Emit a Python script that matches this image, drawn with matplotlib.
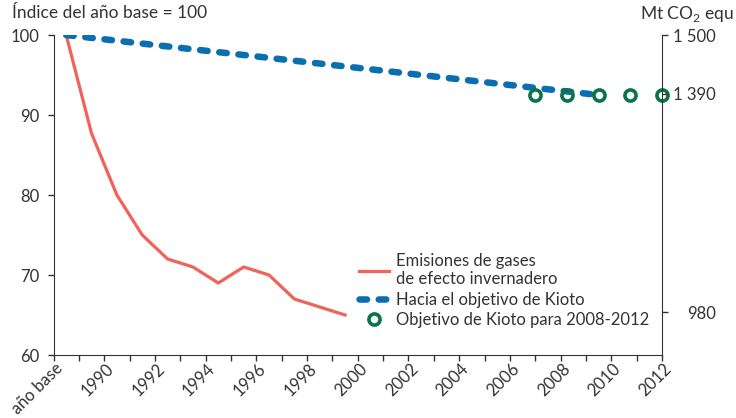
import numpy as np
import matplotlib.pyplot as plt
import matplotlib.transforms as mtrans

plt.rcParams['font.family'] = ['Lato', 'DejaVu Sans']
plt.rcParams['mathtext.fontset'] = 'custom'
plt.rcParams['mathtext.rm'] = 'Lato'

# data
tick_labels = ['año base', '1990', '1992', '1994', '1996', '1998', '2000',
               '2002', '2004', '2006', '2008', '2010', '2012']
emision_years = ['año base', 1989, 1990, 1991, 1992, 1993, 1994, 1995,
                 1996, 1997, 1998, 1999]
emisiones = [100, 87.7, 80, 75, 72, 71, 69, 71, 70, 67, 66, 65]
hacia_years = ['año base', 2009]
hacia_kioto = [100, 92.5]
kioto_years = [2008, 2009, 2010, 2011, 2012]
kioto_obj = [92.5, 92.5, 92.5, 92.5, 92.5]
right_ticks = [980, 1390, 1500]
right_labels = ['980', '1 390', '1 500']

RED = '#f0625a'
BLUE = '#0a6fb0'
GREEN = '#0b7446'
TXT = '#333333'
FS = 12


def pos(y):
    # category slot centre, slot 0 = año base
    if y == 'año base':
        return 0.5
    return y - 1988 + 0.5


def kpos(y):
    # the target circles sit on their own spacing, 2008 .. 2012
    return 19 + (y - 2008) * 1.25


fig = plt.figure(figsize=(7.36, 4.18), dpi=100)
ax = fig.add_axes([53.5 / 736, 1 - 355 / 418, 608.5 / 736, 320 / 418])

ax.plot([pos(y) for y in emision_years], emisiones, color=RED, lw=2.3,
        solid_joinstyle='miter', label='Emisiones de gases\nde efecto invernadero')
ax.plot([pos(y) for y in hacia_years], hacia_kioto, color=BLUE, lw=4.7,
        dash_capstyle='round', linestyle=(0, (1.15, 1.8)),
        label='Hacia el objetivo de Kioto')
ax.plot([kpos(y) for y in kioto_years], kioto_obj, linestyle='none', marker='o',
        ms=8, mew=2.6, mfc='none', mec=GREEN, clip_on=False, zorder=5,
        label='Objetivo de Kioto para 2008-2012')

ax.set_xlim(0, 24)
ax.set_ylim(60, 100)
ax.set_yticks([60, 70, 80, 90, 100])
ax.set_xticks(np.arange(0, 25, 2))
ax.set_xticklabels(tick_labels, rotation=45, ha='right', va='center',
                   rotation_mode='anchor')
ax.set_xticks(np.arange(1, 24, 2), minor=True)
ax.tick_params(axis='both', which='both', direction='out', length=4,
               width=1, colors='#333333', labelsize=FS, labelcolor=TXT)
ax.tick_params(axis='x', pad=6)
ax.tick_params(axis='y', pad=6)
# nudge the slanted year labels a little to the right, like the original
shift = mtrans.ScaledTranslation(7 / 100, 3 / 100, fig.dpi_scale_trans)
for lab in ax.get_xticklabels():
    lab.set_transform(lab.get_transform() + shift)
for s in ['top', 'right']:
    ax.spines[s].set_visible(False)
for s in ['left', 'bottom']:
    ax.spines[s].set_color('#333333')

ax2 = ax.twinx()
ax2.set_ylim(60 * 15, 100 * 15)
ax2.set_yticks(right_ticks)
ax2.set_yticklabels(right_labels, ha='right')
ax2.tick_params(axis='y', direction='out', length=4, width=1, colors='#333333',
                labelsize=FS, labelcolor=TXT, pad=35)
for s in ['top', 'left', 'bottom']:
    ax2.spines[s].set_visible(False)
ax2.spines['right'].set_color('#333333')

fig.text(12 / 736, 1 - 13 / 418, 'Índice del año base = 100', fontsize=12.5,
         color=TXT, va='center', ha='left')
fig.text(734 / 736, 1 - 14 / 418, 'Mt CO$_2$ equ', fontsize=12.5,
         color=TXT, va='center', ha='right')

leg = ax.legend(loc='lower left', bbox_to_anchor=(0.502, 0.085), frameon=False,
                fontsize=FS, handlelength=1.8, handletextpad=0.45,
                labelspacing=0.25, borderaxespad=0, borderpad=0)
for t in leg.get_texts():
    t.set_color(TXT)

fig.savefig('out.png', dpi=100)
